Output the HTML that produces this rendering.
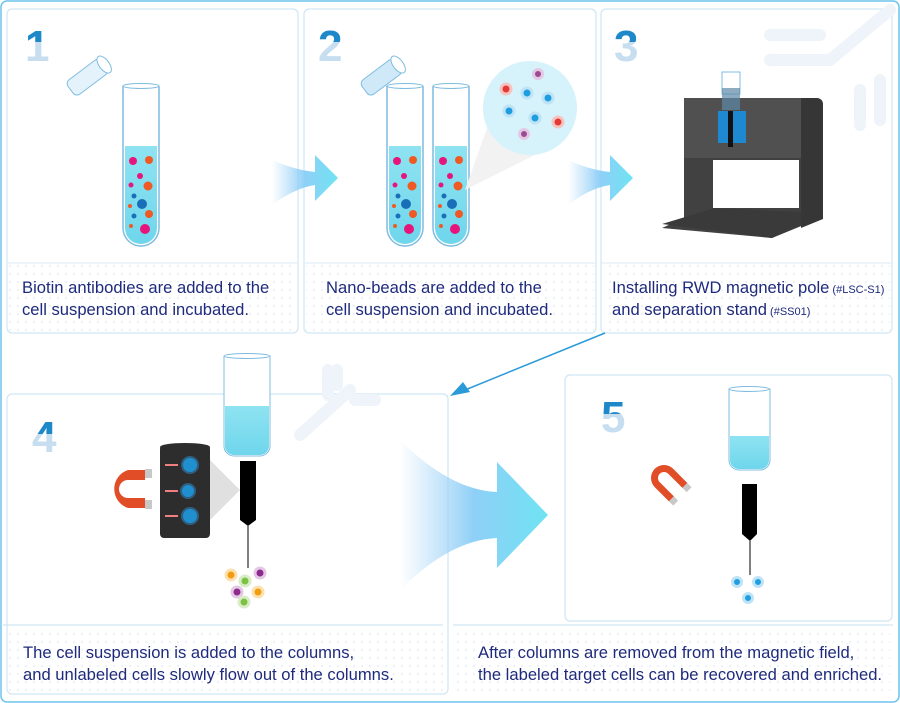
<!DOCTYPE html>
<html><head><meta charset="utf-8"><style>
html,body{margin:0;padding:0;background:#fff}
svg{display:block}
text{font-family:"Liberation Sans",sans-serif;fill:#1f2a7c}
</style></head><body>
<svg width="900" height="703" viewBox="0 0 900 703" xmlns="http://www.w3.org/2000/svg">
<defs>
<pattern id="dots" width="8" height="8" patternUnits="userSpaceOnUse"><circle cx="2" cy="2" r="0.9" fill="#dde8f3"/></pattern>
<linearGradient id="arr" x1="0" x2="1" y1="0" y2="0"><stop offset="0" stop-color="#9fd0f7" stop-opacity="0"/><stop offset="0.5" stop-color="#8fd0f7"/><stop offset="1" stop-color="#6fe3f2"/></linearGradient>
<linearGradient id="liq" x1="0" x2="0" y1="0" y2="1"><stop offset="0" stop-color="#8ee3f1"/><stop offset="1" stop-color="#6fd6ec"/></linearGradient>
<clipPath id="c1"><rect x="0" y="0" width="900" height="42"/></clipPath>
<clipPath id="c4"><rect x="0" y="380" width="900" height="54"/></clipPath>
<clipPath id="c5"><rect x="0" y="380" width="900" height="34"/></clipPath>
</defs>
<rect x="1" y="1" width="898" height="701" rx="6" fill="#fff" stroke="#6cc4ea" stroke-width="1.5"/>
<g fill="none" stroke="#cfe6f5" stroke-width="1.2">
<rect x="7" y="9" width="291" height="324" rx="5"/>
<rect x="304" y="9" width="292" height="324" rx="5"/>
<rect x="601" y="9" width="291" height="324" rx="5"/>
<rect x="7" y="394" width="441" height="300" rx="5"/>
<rect x="565" y="375" width="327" height="246" rx="5"/>
</g>
<rect x="9" y="264" width="287" height="67" fill="url(#dots)"/>
<rect x="306" y="264" width="288" height="67" fill="url(#dots)"/>
<rect x="603" y="264" width="287" height="67" fill="url(#dots)"/>
<rect x="9" y="628" width="437" height="64" fill="url(#dots)"/>
<rect x="455" y="628" width="435" height="64" fill="url(#dots)"/>
<g stroke="#e3eff8" stroke-width="1.2"><line x1="8" y1="263" x2="297" y2="263"/><line x1="305" y1="263" x2="595" y2="263"/><line x1="602" y1="263" x2="891" y2="263"/></g>
<g stroke="#cfe6f5" stroke-width="1.2"><line x1="3" y1="625" x2="443" y2="625"/><line x1="453" y1="625" x2="893" y2="625"/></g>
<g stroke="#eef4f9" stroke-width="12" stroke-linecap="round" fill="none">
<line x1="770" y1="35" x2="820" y2="35"/><line x1="770" y1="60" x2="830" y2="60"/><line x1="830" y1="60" x2="890" y2="10"/><line x1="860" y1="90" x2="860" y2="125"/><line x1="880" y1="80" x2="880" y2="120"/>
<line x1="328" y1="370" x2="328" y2="395"/><line x1="337" y1="370" x2="337" y2="385"/><line x1="300" y1="435" x2="350" y2="390"/><line x1="355" y1="400" x2="375" y2="400"/>
</g>
<g font-family="Liberation Serif,serif" font-weight="bold" font-size="44">
<text x="25" y="61" style="fill:#c6def0">1</text>
<text x="318" y="61" style="fill:#c6def0">2</text>
<text x="614" y="61" style="fill:#c6def0">3</text>
<text x="32" y="452" style="fill:#c6def0">4</text>
<text x="601" y="432" style="fill:#c6def0">5</text>
</g>
<g font-family="Liberation Serif,serif" font-weight="bold" font-size="44">
<text x="25" y="61" style="fill:#1e88c9" clip-path="url(#c1)">1</text>
<text x="318" y="61" style="fill:#1e88c9" clip-path="url(#c1)">2</text>
<text x="614" y="61" style="fill:#1e88c9" clip-path="url(#c1)">3</text>
<text x="32" y="452" style="fill:#1e88c9" clip-path="url(#c4)">4</text>
<text x="601" y="432" style="fill:#1e88c9" clip-path="url(#c5)">5</text>
</g>
<g transform="translate(82,80) rotate(-37)"><rect x="-15" y="-8" width="42" height="18" rx="5" fill="#e4f3fb" stroke="#7fbce0"/><ellipse cx="27" cy="1" rx="5" ry="10" fill="#fff" stroke="#7fbce0"/></g>
<g transform="translate(376,80) rotate(-37)"><rect x="-15" y="-8" width="42" height="18" rx="5" fill="#cfe9f8" stroke="#7fbce0"/><ellipse cx="27" cy="1" rx="5" ry="10" fill="#fff" stroke="#7fbce0"/></g>
<g id="tube">
<path d="M123 86 V228 a18 18 0 0 0 36 0 V86" fill="#fff" stroke="#7fbce0" stroke-width="1.5"/>
<path d="M125 146 H157 V228 a16 16 0 0 1 -32 0 Z" fill="url(#liq)"/>
<ellipse cx="141" cy="86" rx="18" ry="2.5" fill="#fff" stroke="#7fbce0"/>
<g><circle cx="133" cy="161" r="4" fill="#e7157b"/><circle cx="149" cy="160" r="4" fill="#ef5a24"/><circle cx="140" cy="176" r="3" fill="#e7157b"/><circle cx="148" cy="186" r="4.5" fill="#ef5a24"/><circle cx="131" cy="185" r="2.5" fill="#e7157b"/><circle cx="142" cy="204" r="5" fill="#1b6fb8"/><circle cx="134" cy="196" r="2.5" fill="#1b6fb8"/><circle cx="149" cy="214" r="4" fill="#ef5a24"/><circle cx="134" cy="216" r="2.5" fill="#1b6fb8"/><circle cx="145" cy="229" r="5" fill="#e7157b"/><circle cx="131" cy="226" r="2" fill="#ef5a24"/><circle cx="130" cy="206" r="2" fill="#ef5a24"/></g>
</g>
<use href="#tube" transform="translate(264,0)"/>
<use href="#tube" transform="translate(310,0)"/>
<path d="M465 190 L497 100 L545 150 Z" fill="#f2f2f2"/>
<circle cx="530" cy="108" r="47" fill="#d6f2fa"/>
<g stroke-width="3"><circle cx="506" cy="89" r="5" fill="#e53935" stroke="#f6c4c0"/><circle cx="538" cy="74" r="4.5" fill="#9b4b94" stroke="#e3c8e3"/><circle cx="527" cy="93" r="5" fill="#1e9ee0" stroke="#bfe3f6"/><circle cx="548" cy="98" r="5" fill="#1e9ee0" stroke="#bfe3f6"/><circle cx="509" cy="111" r="5" fill="#1e9ee0" stroke="#bfe3f6"/><circle cx="535" cy="118" r="5" fill="#1e9ee0" stroke="#bfe3f6"/><circle cx="558" cy="122" r="5" fill="#e53935" stroke="#f6c4c0"/><circle cx="524" cy="134" r="4.5" fill="#9b4b94" stroke="#e3c8e3"/></g>
<g fill="url(#arr)"><path d="M272 160 Q295 170 315 172 V155 L338 178 L315 201 V185 Q295 188 272 205 Z"/><path d="M568 160 Q590 170 610 172 V155 L633 178 L610 201 V185 Q590 188 568 205 Z"/>
<path d="M400 440 Q450 490 497 492 V462 L548 515 L497 568 V538 Q450 540 400 590 Z"/></g>
<path d="M684 98 H816 V100 V220 L772 238 L662 228 L684 218 Z" fill="#414141"/>
<rect x="684" y="98" width="117" height="60" fill="#505050"/>
<path d="M801 98 H817 a6 6 0 0 1 6 6 V219 L801 228 Z" fill="#363636"/>
<rect x="713" y="160" width="86" height="48" fill="#fff"/>
<path d="M662 224 L715 208 L801 212 V225 L772 238 Z" fill="#3a3a3a"/>
<rect x="722" y="72" width="18" height="22" fill="#fff" stroke="#7fbce0"/>
<rect x="722" y="88" width="18" height="22" fill="#5d88a6" opacity=".7"/>
<rect x="718" y="111" width="28" height="32" fill="#1e88d0"/><rect x="728" y="111" width="5" height="36" fill="#111"/>
<line x1="605" y1="333" x2="465" y2="390" stroke="#2a9ad8" stroke-width="1.5"/>
<path d="M450 396 L463 382 L470 392 Z" fill="#2a9ad8"/>
<path d="M224 356 H270 V446 a10 10 0 0 1 -10 10 H234 a10 10 0 0 1 -10 -10 Z" fill="#fff" stroke="#7fbce0"/>
<path d="M225 406 H269 V446 a9 9 0 0 1 -9 9 H234 a9 9 0 0 1 -9 -9 Z" fill="url(#liq)"/>
<ellipse cx="247" cy="356" rx="23" ry="2.5" fill="#fff" stroke="#7fbce0"/>
<path d="M240 461 H256 V520 L248 526 L240 520 Z" fill="#000"/><line x1="248" y1="526" x2="248" y2="568" stroke="#000"/>
<path d="M210 460 L240 490 L210 520 Z" fill="#e0e0e0"/>
<rect x="160" y="445" width="50" height="93" rx="4" fill="#2d2d2d"/><ellipse cx="185" cy="447" rx="25" ry="4" fill="#2d2d2d"/>
<g fill="#1f8fd0" stroke="#2f5f80" stroke-width="2"><circle cx="190" cy="465" r="8"/><circle cx="188" cy="491" r="7"/><circle cx="190" cy="516" r="8"/></g>
<g stroke="#f08080" stroke-width="2"><line x1="165" y1="465" x2="178" y2="465"/><line x1="165" y1="491" x2="178" y2="491"/><line x1="165" y1="516" x2="178" y2="516"/></g>
<path d="M145 470 H128 a20 20 0 0 0 0 38 H145 V498 H128 a9 9 0 0 1 0 -18 H145 Z" fill="#e04d27"/>
<rect x="145" y="469" width="7" height="9" fill="#c8c8c8"/><rect x="145" y="500" width="7" height="9" fill="#c8c8c8"/>
<g><circle cx="231" cy="575" r="5" fill="#f39c12" stroke="#fbe0b0" stroke-width="3"/><circle cx="245" cy="581" r="5" fill="#7cc242" stroke="#d9ecc8" stroke-width="3"/><circle cx="260" cy="573" r="5" fill="#8e2a8e" stroke="#e3c8e3" stroke-width="3"/><circle cx="237" cy="592" r="5" fill="#8e2a8e" stroke="#e3c8e3" stroke-width="3"/><circle cx="258" cy="592" r="5" fill="#f39c12" stroke="#fbe0b0" stroke-width="3"/><circle cx="244" cy="602" r="5" fill="#7cc242" stroke="#d9ecc8" stroke-width="3"/></g>
<path d="M729 389 H770 V460 a10 10 0 0 1 -10 10 H739 a10 10 0 0 1 -10 -10 Z" fill="#fff" stroke="#7fbce0"/>
<path d="M730 436 H769 V460 a9 9 0 0 1 -9 9 H739 a9 9 0 0 1 -9 -9 Z" fill="url(#liq)"/>
<ellipse cx="749" cy="389" rx="20" ry="2.5" fill="#fff" stroke="#7fbce0"/>
<path d="M742 484 H757 V534 L750 541 L742 534 Z" fill="#000"/><line x1="750" y1="541" x2="750" y2="575" stroke="#000"/>
<g fill="#1f9ee0" stroke="#bfe3f6" stroke-width="3"><circle cx="737" cy="582" r="4.5"/><circle cx="758" cy="582" r="4.5"/><circle cx="748" cy="598" r="4.5"/></g>
<g transform="translate(664,478) rotate(45)">
<path d="M20 -13 H0 a13 13 0 0 0 0 26 H20 V6 H0 a6 6 0 0 1 0 -12 H20 Z" fill="#e04d27"/>
<rect x="20" y="-13" width="6" height="7" fill="#c8c8c8"/><rect x="20" y="6" width="6" height="7" fill="#c8c8c8"/>
</g>
<g font-size="16.6">
<text x="22" y="293">Biotin antibodies are added to the</text>
<text x="22" y="315">cell suspension and incubated.</text>
<text x="326" y="293">Nano-beads are added to the</text>
<text x="326" y="315">cell suspension and incubated.</text>
<text x="612" y="293">Installing  RWD magnetic pole<tspan font-size="11"> (#LSC-S1)</tspan></text>
<text x="612" y="315">and separation stand<tspan font-size="11"> (#SS01)</tspan></text>
<text x="23" y="658">The cell suspension is added to the columns,</text>
<text x="23" y="680">and unlabeled cells slowly flow out of the columns.</text>
<text x="478" y="658">After columns are removed from the magnetic field,</text>
<text x="478" y="680">the labeled target cells can be recovered and enriched.</text>
</g>
</svg>
</body></html>
